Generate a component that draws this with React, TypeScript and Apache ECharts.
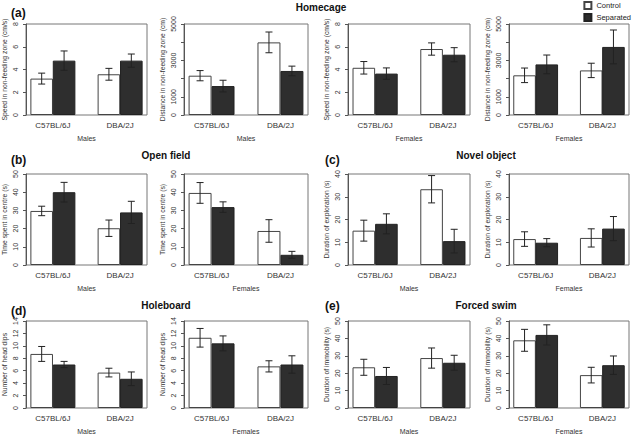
import React, { useEffect, useRef } from 'react';
import * as echarts from 'echarts';

const categories = ['C57BL/6J', 'DBA/2J'];
const groups = ['Control', 'Separated'];

// (a) Homecage — speed in non-feeding zone (cm/s)
const speedMalesControl = [3.2, 3.58];
const speedMalesControlSE = [0.48, 0.52];
const speedMalesSeparated = [4.78, 4.78];
const speedMalesSeparatedSE = [0.85, 0.58];
const speedFemalesControl = [4.15, 5.8];
const speedFemalesControlSE = [0.55, 0.54];
const speedFemalesSeparated = [3.64, 5.3];
const speedFemalesSeparatedSE = [0.5, 0.62];
// (a) Homecage — distance in non-feeding zone (cm)
const distMalesControl = [2160, 3990];
const distMalesControlSE = [280, 570];
const distMalesSeparated = [1590, 2420];
const distMalesSeparatedSE = [320, 265];
const distFemalesControl = [2180, 2450];
const distFemalesControlSE = [400, 395];
const distFemalesSeparated = [2780, 3740];
const distFemalesSeparatedSE = [515, 930];
const distTickLabels = [0, 1000, 3000, 5000];
// (b) Open field — time spent in centre (s)
const openMalesControl = [29.7, 20.2];
const openMalesControlSE = [2.6, 4.5];
const openMalesSeparated = [40.0, 28.9];
const openMalesSeparatedSE = [5.4, 6.1];
const openFemalesControl = [39.6, 18.7];
const openFemalesControlSE = [5.7, 6.2];
const openFemalesSeparated = [31.8, 5.6];
const openFemalesSeparatedSE = [2.9, 1.9];
// (c) Novel object — duration of exploration (s)
const novelMalesControl = [15.1, 33.3];
const novelMalesControlSE = [4.6, 6.0];
const novelMalesSeparated = [18.1, 10.5];
const novelMalesSeparatedSE = [4.4, 5.2];
const novelFemalesControl = [11.4, 11.9];
const novelFemalesControlSE = [3.2, 4.0];
const novelFemalesSeparated = [9.8, 16.0];
const novelFemalesSeparatedSE = [1.8, 5.3];
// (d) Holeboard — number of head dips
const holeMalesControl = [8.7, 5.7];
const holeMalesControlSE = [1.2, 0.7];
const holeMalesSeparated = [7.0, 4.7];
const holeMalesSeparatedSE = [0.5, 1.1];
const holeFemalesControl = [11.3, 6.7];
const holeFemalesControlSE = [1.5, 0.9];
const holeFemalesSeparated = [10.4, 7.0];
const holeFemalesSeparatedSE = [1.2, 1.4];
// (e) Forced swim — duration of immobility (s)
const swimMalesControl = [23.4, 28.7];
const swimMalesControlSE = [4.6, 5.8];
const swimMalesSeparated = [18.4, 26.0];
const swimMalesSeparatedSE = [4.9, 4.3];
const swimFemalesControl = [38.9, 18.9];
const swimFemalesControlSE = [6.3, 4.5];
const swimFemalesSeparated = [42.0, 24.6];
const swimFemalesSeparatedSE = [5.8, 5.3];

const FONT = 'Liberation Sans, Arial, Helvetica, sans-serif';
const colLeft = [25, 184, 348, 509];
const colWidth = [122, 124, 122, 122];
const rowTop = [24, 174, 321];
const rowHeight = [91, 91, 90];

const panels = [
  { col: 0, row: 0, sex: 'Males', ctrl: speedMalesControl, ctrlSE: speedMalesControlSE, sep: speedMalesSeparated, sepSE: speedMalesSeparatedSE, max: 8, step: 2, name: 'Speed in non-feeding zone (cm/s)' },
  { col: 1, row: 0, sex: 'Males', ctrl: distMalesControl, ctrlSE: distMalesControlSE, sep: distMalesSeparated, sepSE: distMalesSeparatedSE, max: 5000, step: 1000, name: 'Distance in non-feeding zone (cm)', labels: distTickLabels },
  { col: 2, row: 0, sex: 'Females', ctrl: speedFemalesControl, ctrlSE: speedFemalesControlSE, sep: speedFemalesSeparated, sepSE: speedFemalesSeparatedSE, max: 8, step: 2, name: 'Speed in non-feeding zone (cm/s)' },
  { col: 3, row: 0, sex: 'Females', ctrl: distFemalesControl, ctrlSE: distFemalesControlSE, sep: distFemalesSeparated, sepSE: distFemalesSeparatedSE, max: 5000, step: 1000, name: 'Distance in non-feeding zone (cm)', labels: distTickLabels },
  { col: 0, row: 1, sex: 'Males', ctrl: openMalesControl, ctrlSE: openMalesControlSE, sep: openMalesSeparated, sepSE: openMalesSeparatedSE, max: 50, step: 10, name: 'Time spent in centre (s)' },
  { col: 1, row: 1, sex: 'Females', ctrl: openFemalesControl, ctrlSE: openFemalesControlSE, sep: openFemalesSeparated, sepSE: openFemalesSeparatedSE, max: 50, step: 10, name: 'Time spent in centre (s)' },
  { col: 2, row: 1, sex: 'Males', ctrl: novelMalesControl, ctrlSE: novelMalesControlSE, sep: novelMalesSeparated, sepSE: novelMalesSeparatedSE, max: 40, step: 10, name: 'Duration of exploration (s)' },
  { col: 3, row: 1, sex: 'Females', ctrl: novelFemalesControl, ctrlSE: novelFemalesControlSE, sep: novelFemalesSeparated, sepSE: novelFemalesSeparatedSE, max: 40, step: 10, name: 'Duration of exploration (s)' },
  { col: 0, row: 2, sex: 'Males', ctrl: holeMalesControl, ctrlSE: holeMalesControlSE, sep: holeMalesSeparated, sepSE: holeMalesSeparatedSE, max: 14, step: 2, name: 'Number of head dips' },
  { col: 1, row: 2, sex: 'Females', ctrl: holeFemalesControl, ctrlSE: holeFemalesControlSE, sep: holeFemalesSeparated, sepSE: holeFemalesSeparatedSE, max: 14, step: 2, name: 'Number of head dips' },
  { col: 2, row: 2, sex: 'Males', ctrl: swimMalesControl, ctrlSE: swimMalesControlSE, sep: swimMalesSeparated, sepSE: swimMalesSeparatedSE, max: 50, step: 10, name: 'Duration of immobility (s)' },
  { col: 3, row: 2, sex: 'Females', ctrl: swimFemalesControl, ctrlSE: swimFemalesControlSE, sep: swimFemalesSeparated, sepSE: swimFemalesSeparatedSE, max: 50, step: 10, name: 'Duration of immobility (s)' },
];

const headings = [
  { text: 'Homecage', x: 321, y: 7 },
  { text: 'Open field', x: 166, y: 155 },
  { text: 'Novel object', x: 486, y: 155 },
  { text: 'Holeboard', x: 166, y: 305 },
  { text: 'Forced swim', x: 486, y: 305 },
];
const panelTags = [
  { text: '(a)', x: 11, y: 13 },
  { text: '(b)', x: 11, y: 160 },
  { text: '(c)', x: 325, y: 160 },
  { text: '(d)', x: 11, y: 311 },
  { text: '(e)', x: 325, y: 306 },
];

// bar-plot geometry in R units (x10): bars 1 wide, groups separated by 1, 0.2 padding
const X_MAX = 54;
const barX = (cat: number, grp: number) => 7 + cat * 30 + grp * 10;
const catCenter = (cat: number) => 12 + cat * 30;

function errRender(params: any, api: any) {
  const x = api.value(0);
  const a = api.coord([x, api.value(2)]);
  const b = api.coord([x, api.value(1)]);
  const hw = 3.5;
  const style = { stroke: '#222', lineWidth: 1 };
  return {
    type: 'group',
    children: [
      { type: 'line', shape: { x1: a[0], y1: a[1], x2: b[0], y2: b[1] }, style },
      { type: 'line', shape: { x1: a[0] - hw, y1: a[1], x2: a[0] + hw, y2: a[1] }, style },
      { type: 'line', shape: { x1: b[0] - hw, y1: b[1], x2: b[0] + hw, y2: b[1] }, style },
    ],
  };
}

export default function App() {
  const ref = useRef<HTMLDivElement>(null);
  useEffect(() => {
    if (!ref.current) return;
    const chart = echarts.init(ref.current, null, { renderer: 'svg' });
    const grid = panels.map((p) => ({
      left: colLeft[p.col],
      top: rowTop[p.row],
      width: colWidth[p.col],
      height: rowHeight[p.row],
      show: true,
      borderColor: '#777',
      borderWidth: 1,
      backgroundColor: 'transparent',
    }));
    const xAxis = panels.map((p, i) => ({
      gridIndex: i,
      type: 'value',
      min: 0,
      max: X_MAX,
      interval: 6,
      axisLine: { show: false },
      axisTick: { show: false },
      splitLine: { show: false },
      axisLabel: {
        formatter: (v: number) => (v === catCenter(0) ? categories[0] : v === catCenter(1) ? categories[1] : ''),
        fontSize: 8,
        color: '#333',
        margin: 6,
        fontFamily: FONT,
      },
      name: p.sex,
      nameLocation: 'middle',
      nameGap: 20,
      nameTextStyle: { fontSize: 7, color: '#333', fontFamily: FONT },
    }));
    const yAxis = panels.map((p, i) => ({
      gridIndex: i,
      type: 'value',
      min: 0,
      max: p.max,
      interval: p.step,
      offset: 4,
      axisLine: { show: true, lineStyle: { color: '#555' } },
      axisTick: { show: true, length: 3, lineStyle: { color: '#555' } },
      splitLine: { show: false },
      axisLabel: {
        rotate: 90,
        fontSize: 7,
        margin: 3,
        color: '#333',
        fontFamily: FONT,
        formatter: (v: number) => (p.labels ? (p.labels.includes(v) ? String(v) : '') : String(v)),
      },
      name: p.name,
      nameLocation: 'middle',
      nameGap: 14,
      nameTextStyle: { fontSize: 6.8, color: '#333', fontFamily: FONT },
    }));
    const bw = (i: number) => (colWidth[panels[i].col] * 10) / X_MAX;
    const series: any[] = [];
    panels.forEach((p, i) => {
      series.push({
        type: 'bar',
        name: groups[0],
        xAxisIndex: i,
        yAxisIndex: i,
        barWidth: bw(i),
        barGap: '-100%',
        data: p.ctrl.map((v, c) => [barX(c, 0), v]),
        itemStyle: { color: '#ffffff', borderColor: '#444', borderWidth: 1 },
      });
      series.push({
        type: 'bar',
        name: groups[1],
        xAxisIndex: i,
        yAxisIndex: i,
        barWidth: bw(i),
        barGap: '-100%',
        data: p.sep.map((v, c) => [barX(c, 1), v]),
        itemStyle: { color: '#2e2e2e', borderColor: '#222', borderWidth: 1 },
      });
      const err: number[][] = [];
      p.ctrl.forEach((v, c) => err.push([barX(c, 0), v - p.ctrlSE[c], v + p.ctrlSE[c]]));
      p.sep.forEach((v, c) => err.push([barX(c, 1), v - p.sepSE[c], v + p.sepSE[c]]));
      series.push({
        type: 'custom',
        xAxisIndex: i,
        yAxisIndex: i,
        data: err,
        encode: { x: 0, y: [1, 2] },
        renderItem: errRender,
        clip: false,
        z: 10,
      });
    });
    const graphic: any[] = [];
    headings.forEach((h) =>
      graphic.push({
        type: 'text',
        x: h.x,
        y: h.y,
        style: { text: h.text, font: `bold 10px ${FONT}`, fill: '#111', textAlign: 'center', textVerticalAlign: 'middle' },
      })
    );
    panelTags.forEach((t) =>
      graphic.push({
        type: 'text',
        x: t.x,
        y: t.y,
        style: { text: t.text, font: `bold 12px ${FONT}`, fill: '#111', textAlign: 'left', textVerticalAlign: 'middle' },
      })
    );
    chart.setOption({
      animation: false,
      textStyle: { fontFamily: FONT },
      legend: {
        data: groups,
        orient: 'vertical',
        right: 1,
        top: 1,
        padding: 0,
        itemWidth: 7,
        itemHeight: 7,
        itemGap: 3,
        icon: 'rect',
        selectedMode: false,
        textStyle: { fontSize: 7.5, color: '#222', fontFamily: FONT },
      },
      grid,
      xAxis,
      yAxis,
      series,
      graphic,
    });
    return () => chart.dispose();
  }, []);
  return <div ref={ref} style={{ position: 'fixed', left: 0, top: 0, width: 632, height: 436, background: '#fff' }} />;
}
